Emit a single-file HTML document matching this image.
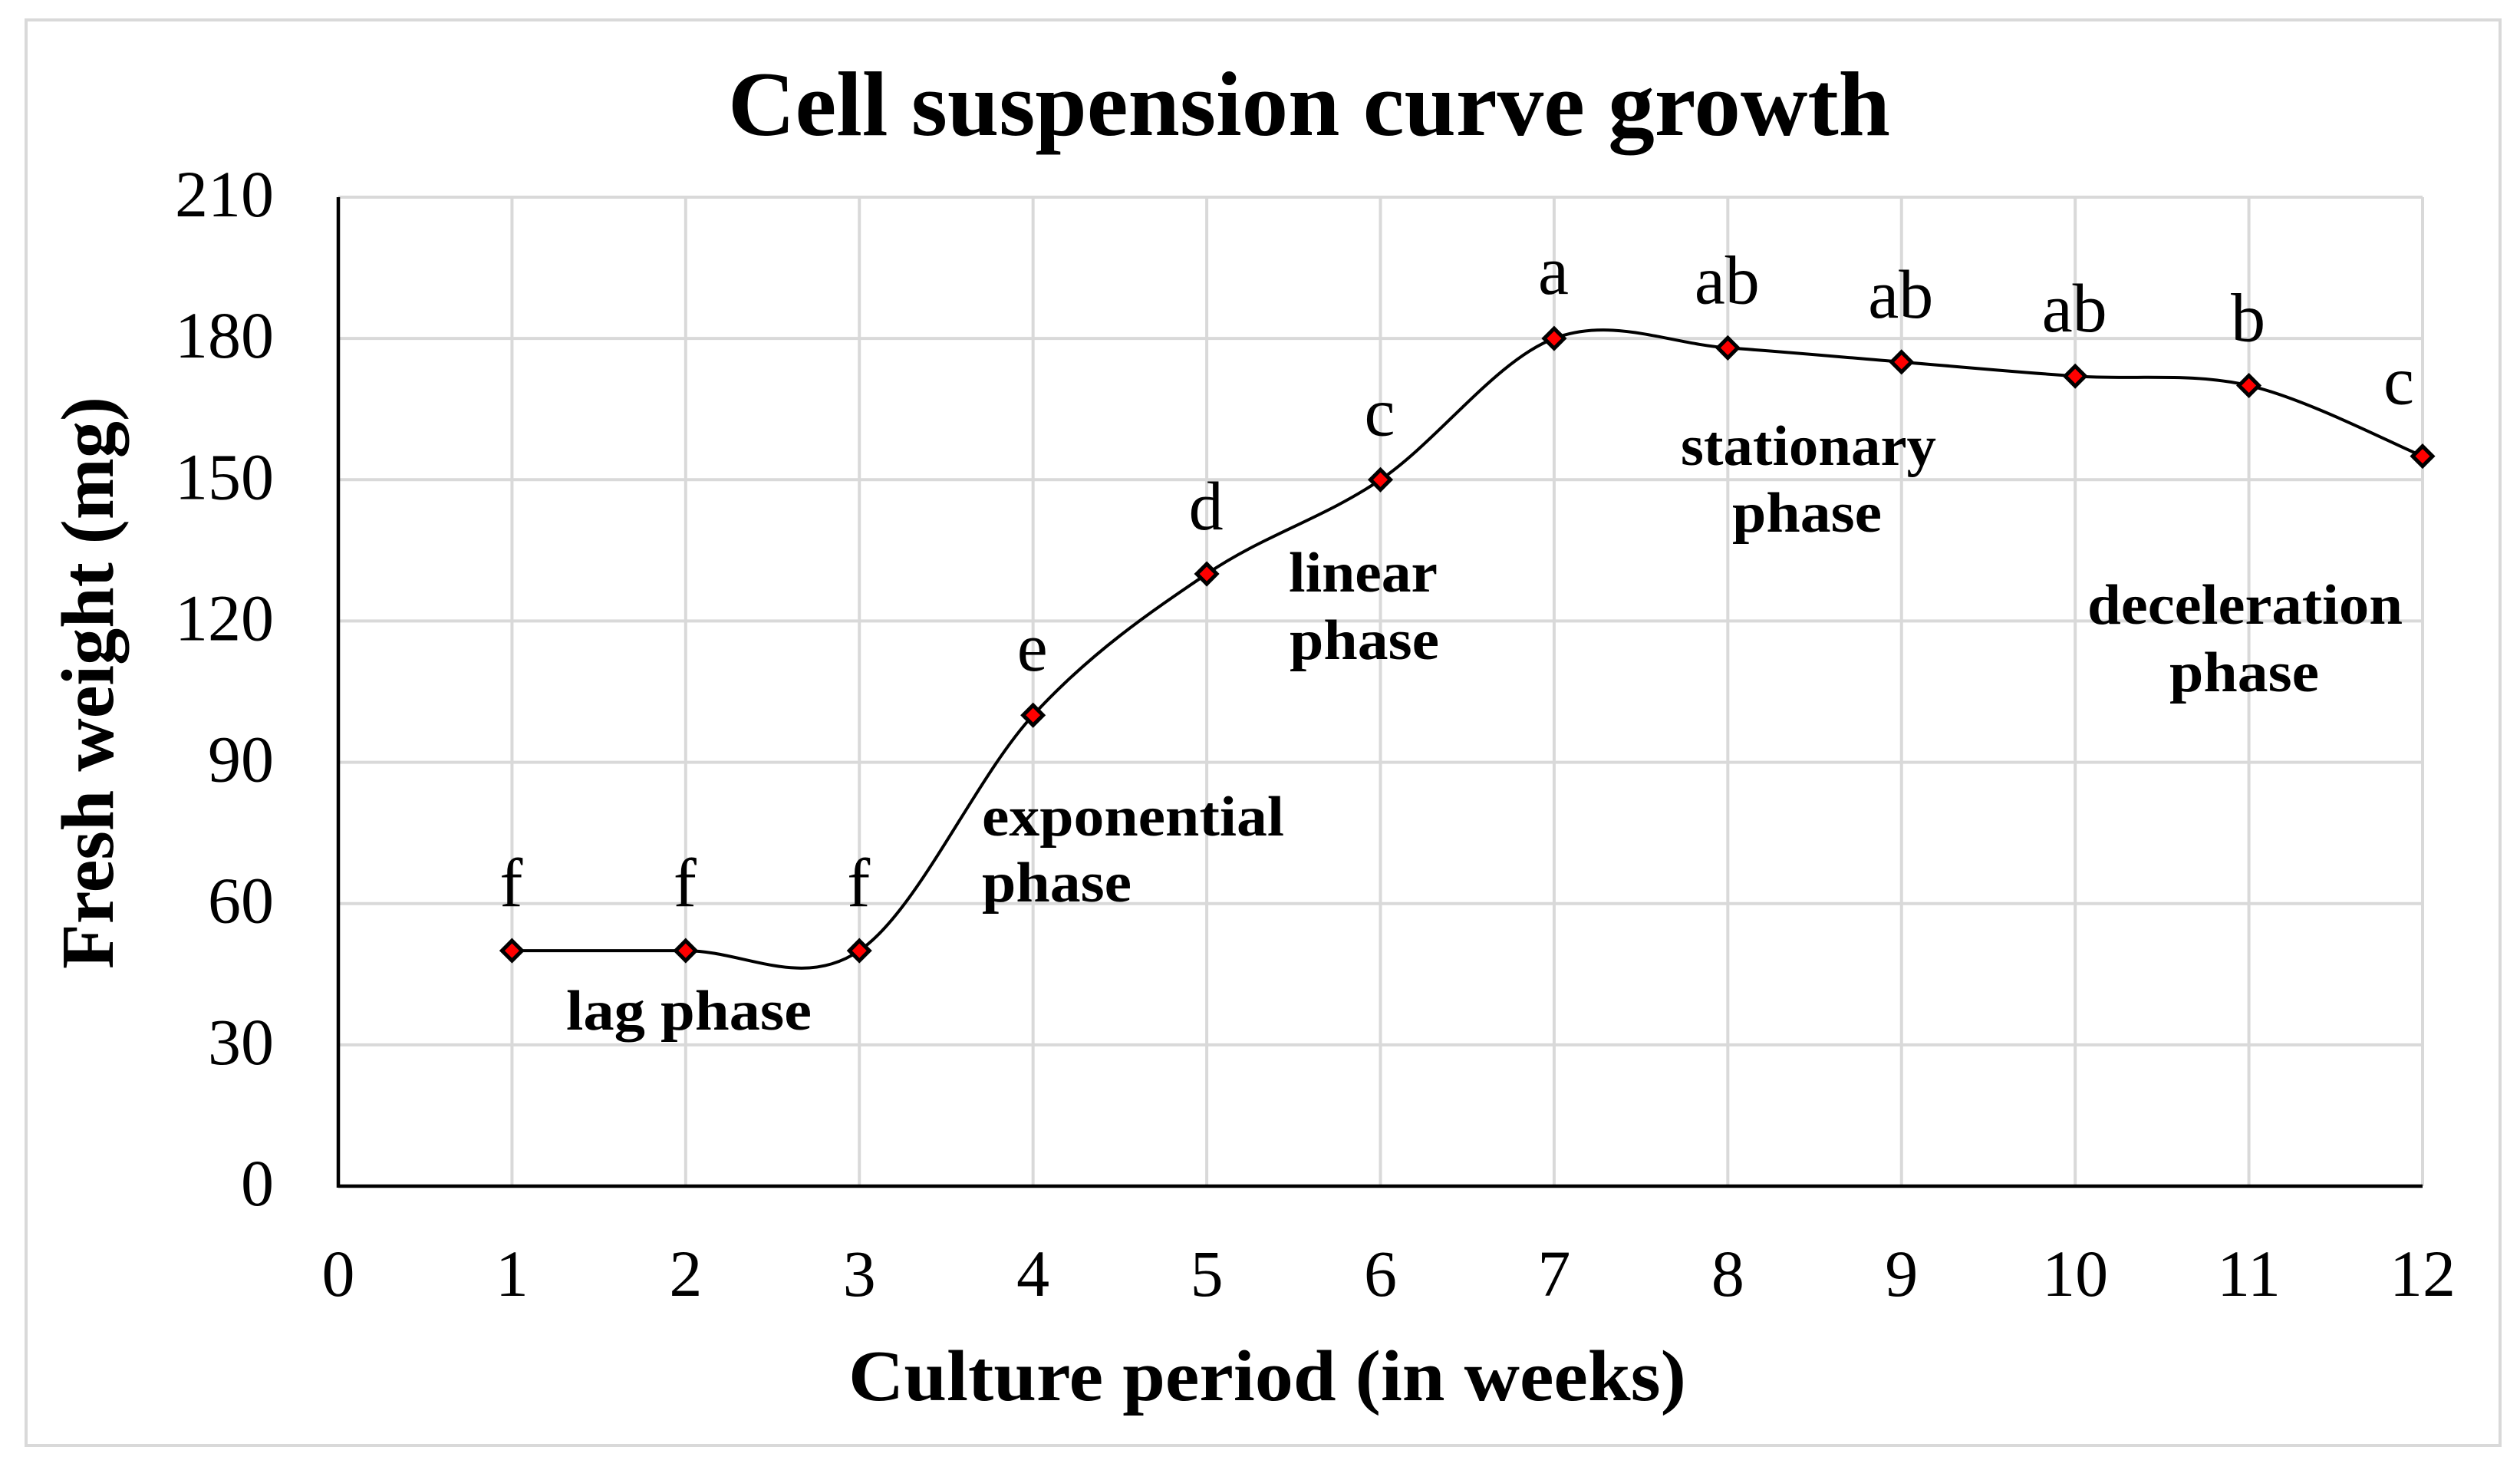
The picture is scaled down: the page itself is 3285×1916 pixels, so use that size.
<!DOCTYPE html>
<html lang="en">
<head>
<meta charset="utf-8">
<title>Cell suspension curve growth</title>
<style>
html,body{margin:0;padding:0;background:#fff;width:3285px;height:1916px;overflow:hidden}
svg{display:block}
text{font-family:"Liberation Serif",serif;fill:#000}
.b{font-weight:bold}
.phase{font-size:74px;font-weight:bold}
.tick{font-size:86px}
.sig{font-size:90px}
</style>
</head>
<body>
<svg id="chart" width="3285" height="1916" viewBox="0 0 3285 1916" xmlns="http://www.w3.org/2000/svg">
  <rect x="0" y="0" width="3285" height="1916" fill="#ffffff"/>
  <rect x="34" y="26" width="3225" height="1858" fill="#ffffff" stroke="#d9d9d9" stroke-width="4"/>
  <g id="grid"></g>
  <g id="axes"></g>
  <g id="ticks"></g>
  <text class="b" x="949" y="176" font-size="120" textLength="1515" lengthAdjust="spacingAndGlyphs">Cell suspension curve growth</text>
  <text class="b" x="1106" y="1825" font-size="94" textLength="1092" lengthAdjust="spacingAndGlyphs">Culture period (in weeks)</text>
  <text class="b" transform="translate(147,1263) rotate(-90)" font-size="98" textLength="746" lengthAdjust="spacingAndGlyphs">Fresh weight (mg)</text>
  <path id="curve" fill="none" stroke="#000" stroke-width="4"/>
  <g id="markers"></g>
  <g id="letters"></g>
  <g>
    <text class="phase" x="738" y="1342" textLength="320" lengthAdjust="spacingAndGlyphs">lag phase</text>
    <text class="phase" x="1280" y="1089" textLength="394" lengthAdjust="spacingAndGlyphs">exponential</text>
    <text class="phase" x="1280" y="1175" textLength="195" lengthAdjust="spacingAndGlyphs">phase</text>
    <text class="phase" x="1680" y="771" textLength="194" lengthAdjust="spacingAndGlyphs">linear</text>
    <text class="phase" x="1681" y="859" textLength="195" lengthAdjust="spacingAndGlyphs">phase</text>
    <text class="phase" x="2191" y="606" textLength="333" lengthAdjust="spacingAndGlyphs">stationary</text>
    <text class="phase" x="2258" y="693" textLength="195" lengthAdjust="spacingAndGlyphs">phase</text>
    <text class="phase" x="2721" y="813" textLength="411" lengthAdjust="spacingAndGlyphs">deceleration</text>
    <text class="phase" x="2828" y="901" textLength="195" lengthAdjust="spacingAndGlyphs">phase</text>
  </g>
</svg>
<script>
const weeks = [1, 2, 3, 4, 5, 6, 7, 8, 9, 10, 11, 12];
const freshWeight = [50, 50, 50, 100, 130, 150, 180, 178, 175, 172, 170, 155];
const sigLetters = ['f', 'f', 'f', 'e', 'd', 'c', 'a', 'ab', 'ab', 'ab', 'b', 'c'];
const xTicks = [0, 1, 2, 3, 4, 5, 6, 7, 8, 9, 10, 11, 12];
const yTicks = [0, 30, 60, 90, 120, 150, 180, 210];

const NS = 'http://www.w3.org/2000/svg';
const plotLeft = 441, plotRight = 3158, plotTop = 257, plotBottom = 1546;
const xMax = xTicks[xTicks.length - 1], yMax = yTicks[yTicks.length - 1];
function xScale(v) { return plotLeft + (v / xMax) * (plotRight - plotLeft); }
function yScale(v) { return plotBottom - (v / yMax) * (plotBottom - plotTop); }
function mk(tag, parent, attrs, txt) {
  const el = document.createElementNS(NS, tag);
  for (const k in attrs) el.setAttribute(k, attrs[k]);
  if (txt !== undefined) el.textContent = txt;
  document.getElementById(parent).appendChild(el);
  return el;
}

xTicks.forEach(function (t) {
  if (t === 0) return;
  const line = mk('line', 'grid', { x1: xScale(t), x2: xScale(t), y1: plotTop, y2: plotBottom, stroke: '#d9d9d9', 'stroke-width': 4 });
  
  
});
yTicks.forEach(function (t) {
  if (t === 0) return;
  const line = mk('line', 'grid', { x1: plotLeft, x2: plotRight, y1: yScale(t), y2: yScale(t), stroke: '#d9d9d9', 'stroke-width': 4 });
  
  
});

const yAxisLine = mk('line', 'axes', { x1: plotLeft, x2: plotLeft, y1: plotTop, y2: plotBottom + 2, stroke: '#000', 'stroke-width': 4.5 });


const xAxisLine = mk('line', 'axes', { x1: plotLeft, x2: plotRight, y1: plotBottom, y2: plotBottom, stroke: '#000', 'stroke-width': 4.5 });



xTicks.forEach(function (t) {
  const label = mk('text', 'ticks', { class: 'tick', x: xScale(t), y: 1689, 'text-anchor': 'middle' }, String(t));
  
  
});
yTicks.forEach(function (t) {
  const label = mk('text', 'ticks', { class: 'tick', x: 357, y: yScale(t) + 25, 'text-anchor': 'end' }, String(t));
  
  
});

const pts = weeks.map(function (w, i) { return [xScale(w), yScale(freshWeight[i])]; });
let d = 'M' + pts[0][0] + ' ' + pts[0][1];
for (let i = 0; i < pts.length - 1; i++) {
  const p0 = pts[Math.max(i - 1, 0)], p1 = pts[i], p2 = pts[i + 1], p3 = pts[Math.min(i + 2, pts.length - 1)];
  const c1x = p1[0] + (p2[0] - p0[0]) / 6, c1y = p1[1] + (p2[1] - p0[1]) / 6;
  const c2x = p2[0] - (p3[0] - p1[0]) / 6, c2y = p2[1] - (p3[1] - p1[1]) / 6;
  d += ' C' + c1x + ' ' + c1y + ' ' + c2x + ' ' + c2y + ' ' + p2[0] + ' ' + p2[1];
}
document.getElementById('curve').setAttribute('d', d);

pts.forEach(function (p, i) {
  const r = 13;
  const m = mk('polygon', 'markers', {
    points: p[0] + ',' + (p[1] - r) + ' ' + (p[0] + r) + ',' + p[1] + ' ' + p[0] + ',' + (p[1] + r) + ' ' + (p[0] - r) + ',' + p[1],
    fill: '#ff0000', stroke: '#000', 'stroke-width': 5
  });
  
  
  const last = i === pts.length - 1;
  const t = mk('text', 'letters', { class: 'sig', x: p[0] - (last ? 31 : 1), y: p[1] - (last ? 68 : 58), 'text-anchor': 'middle' }, sigLetters[i]);
  
  
});
</script>
</body>
</html>
